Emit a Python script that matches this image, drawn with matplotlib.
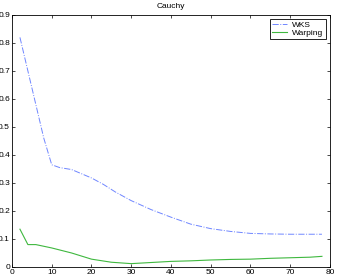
import matplotlib
matplotlib.use("Agg")
import matplotlib.pyplot as plt

# WKS curve
wks_x = [2, 4, 6, 8, 10, 12, 15, 18, 20, 23, 26, 30, 35, 40, 45, 50, 55, 60, 65, 70, 75, 78]
wks_y = [0.82, 0.70, 0.58, 0.46, 0.365, 0.355, 0.348, 0.33, 0.318, 0.295, 0.268, 0.237, 0.205, 0.178, 0.153, 0.137, 0.127, 0.12, 0.118, 0.117, 0.117, 0.117]

# Warping curve
warp_x = [2, 4, 6, 10, 15, 20, 25, 30, 35, 40, 45, 50, 55, 60, 65, 70, 75, 78]
warp_y = [0.135, 0.08, 0.08, 0.068, 0.05, 0.028, 0.017, 0.012, 0.016, 0.02, 0.022, 0.025, 0.027, 0.028, 0.031, 0.033, 0.035, 0.038]

plt.rcParams['font.family'] = 'Liberation Sans'
plt.rcParams['font.size'] = 6

fig = plt.figure(figsize=(3.38, 2.78), dpi=100)
ax = fig.add_axes([0.0355, 0.0396, 0.9405, 0.9065])
ax.plot(wks_x, wks_y, color='#6f86ff', linestyle='-.', linewidth=0.7, label='WKS')
ax.plot(warp_x, warp_y, color='#3fb83f', linestyle='-', linewidth=0.8, label='Warping')
ax.set_xlim(0, 80)
ax.set_ylim(0, 0.9)
ax.set_xticks(range(0, 81, 10))
ax.set_yticks([i / 10 for i in range(10)])
ax.set_yticklabels(['0'] + ['%.1f' % (i / 10) for i in range(1, 10)])
ax.tick_params(direction='in', top=True, right=True, length=2.5, width=0.5, pad=1.5)
for s in ax.spines.values():
    s.set_linewidth(0.6)
ax.set_title('Cauchy', fontsize=6, pad=5)
leg = ax.legend(loc='upper right', fancybox=False, framealpha=1, edgecolor='black',
                handlelength=1.8, handletextpad=0.6, borderpad=0.25, labelspacing=0.05,
                borderaxespad=0.5)
leg.get_frame().set_linewidth(0.6)
fig.savefig('out.png', dpi=100)
